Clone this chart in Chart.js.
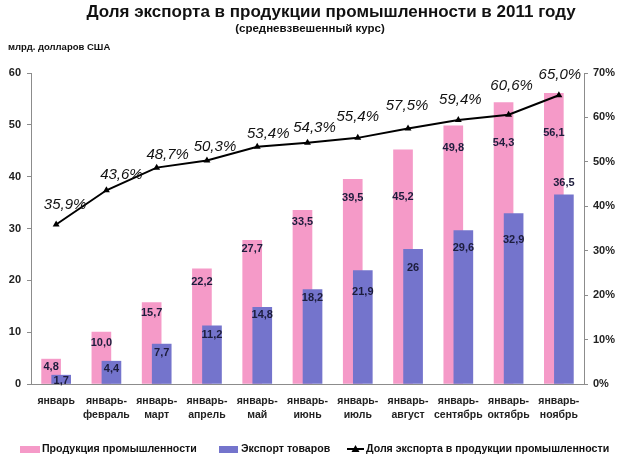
<!DOCTYPE html>
<html>
<head>
<meta charset="utf-8">
<script src="https://cdn.jsdelivr.net/npm/chart.js@4/dist/chart.umd.min.js"></script>
<style>
  html, body { margin: 0; padding: 0; background: #fff; }
  #box { width: 624px; height: 458px; }
</style>
</head>
<body>
<div id="box"><canvas id="exportChart" width="624" height="458"></canvas></div>
<script>
// периоды (нарастающим итогом)
const periods = [
  ['январь'],
  ['январь-', 'февраль'],
  ['январь-', 'март'],
  ['январь-', 'апрель'],
  ['январь-', 'май'],
  ['январь-', 'июнь'],
  ['январь-', 'июль'],
  ['январь-', 'август'],
  ['январь-', 'сентябрь'],
  ['январь-', 'октябрь'],
  ['январь-', 'ноябрь']
];
// млрд. долларов США
const industryOutput = [4.8, 10.0, 15.7, 22.2, 27.7, 33.5, 39.5, 45.2, 49.8, 54.3, 56.1];
const goodsExport = [1.7, 4.4, 7.7, 11.2, 14.8, 18.2, 21.9, 26, 29.6, 32.9, 36.5];
// доля экспорта, %
const exportShare = [35.9, 43.6, 48.7, 50.3, 53.4, 54.3, 55.4, 57.5, 59.4, 60.6, 65.0];
const leftTicks = [0, 10, 20, 30, 40, 50, 60];
const rightTicks = [0, 10, 20, 30, 40, 50, 60, 70];

const FONT = '"Liberation Sans", Arial, sans-serif';
const PINK = '#f59ac8';
const BLUE = '#7474cc';
const SHIFT = 0.1; // pink left, blue right of the period

// сдвиг подписей как на исходной диаграмме
const pinkLabelDy = [8, 11, 10, 13, 9, 12, 19, 47, 22, 40, 40];
const blueLabelDy = [6, 8, 9, 9, 8, 8, 21, 19, 17, 27, -12];
const shareLabelDx = [9, 15, 11, 8, 11, 7, 0, -1, 2, 3, 1];
const shareLabelDy = [-20, -15, -13, -14, -13, -15, -21, -23, -20, -29, -20];

const comma = v => String(v).replace('.', ',');

const valueLabels = {
  id: 'valueLabels',
  afterDatasetsDraw(chart) {
    const ctx = chart.ctx;
    ctx.save();
    ctx.textAlign = 'center';
    ctx.textBaseline = 'middle';
    ctx.font = 'bold 11px ' + FONT;
    ctx.fillStyle = '#1c1c3c';
    chart.getDatasetMeta(1).data.forEach((el, i) => {
      ctx.fillText(industryOutput[i].toFixed(1).replace('.', ','), el.x, el.y + pinkLabelDy[i]);
    });
    chart.getDatasetMeta(2).data.forEach((el, i) => {
      ctx.fillText(comma(goodsExport[i]), el.x, el.y + blueLabelDy[i]);
    });
    ctx.font = 'italic 15px ' + FONT;
    ctx.fillStyle = '#111';
    chart.getDatasetMeta(0).data.forEach((el, i) => {
      ctx.fillText(exportShare[i].toFixed(1).replace('.', ',') + '%', el.x + shareLabelDx[i], el.y + shareLabelDy[i]);
    });
    ctx.restore();
  }
};

const headerAndLegend = {
  id: 'headerAndLegend',
  beforeDraw(chart) {
    const ctx = chart.ctx;
    ctx.save();
    ctx.fillStyle = '#fff';
    ctx.fillRect(0, 0, chart.width, chart.height);
    ctx.restore();
  },
  afterDraw(chart) {
    const ctx = chart.ctx;
    ctx.save();
    ctx.fillStyle = '#111';
    ctx.textBaseline = 'middle';
    ctx.textAlign = 'center';
    ctx.font = 'bold 17px ' + FONT;
    ctx.fillText('Доля экспорта в продукции промышленности в 2011 году', 331, 12);
    ctx.font = 'bold 11.5px ' + FONT;
    ctx.fillText('(средневзвешенный курс)', 310, 29);
    ctx.textAlign = 'left';
    ctx.font = 'bold 9.5px ' + FONT;
    ctx.fillText('млрд. долларов США', 8, 47);

    // легенда
    const y = 449;
    ctx.font = 'bold 10.6px ' + FONT;
    ctx.fillStyle = PINK;
    ctx.fillRect(20, y - 3, 20, 7);
    ctx.fillStyle = '#111';
    ctx.fillText('Продукция промышленности', 42, y);
    ctx.fillStyle = BLUE;
    ctx.fillRect(219, y - 3, 19, 7);
    ctx.fillStyle = '#111';
    ctx.fillText('Экспорт товаров', 241, y);
    ctx.strokeStyle = '#000';
    ctx.lineWidth = 2;
    ctx.beginPath();
    ctx.moveTo(347, y);
    ctx.lineTo(364, y);
    ctx.stroke();
    ctx.beginPath();
    ctx.moveTo(355.5, y - 4);
    ctx.lineTo(359.5, y + 3);
    ctx.lineTo(351.5, y + 3);
    ctx.closePath();
    ctx.fillStyle = '#000';
    ctx.fill();
    ctx.fillStyle = '#111';
    ctx.fillText('Доля экспорта в продукции промышленности', 366, y);
    ctx.restore();
  }
};

const tickFont = { family: FONT, size: 11, weight: 'bold' };

new Chart(document.getElementById('exportChart'), {
  type: 'bar',
  data: {
    datasets: [
      {
        type: 'line',
        label: 'Доля экспорта в продукции промышленности',
        data: exportShare.map((v, i) => ({ x: i, y: v })),
        yAxisID: 'yShare',
        borderColor: '#000',
        backgroundColor: '#000',
        borderWidth: 2,
        pointStyle: 'triangle',
        pointRadius: 4,
        pointBackgroundColor: '#000',
        pointBorderWidth: 0,
        tension: 0,
        order: 0
      },
      {
        label: 'Продукция промышленности',
        data: industryOutput.map((v, i) => ({ x: i - SHIFT, y: v })),
        yAxisID: 'y',
        backgroundColor: PINK,
        barThickness: 19,
        grouped: false,
        order: 2
      },
      {
        label: 'Экспорт товаров',
        data: goodsExport.map((v, i) => ({ x: i + SHIFT, y: v })),
        yAxisID: 'y',
        backgroundColor: BLUE,
        barThickness: 19,
        grouped: false,
        order: 1
      }
    ]
  },
  options: {
    responsive: false,
    animation: false,
    layout: { padding: { top: 73, bottom: 32, left: 0, right: 0 } },
    plugins: { legend: { display: false }, tooltip: { enabled: false } },
    scales: {
      x: {
        type: 'linear',
        min: -0.5,
        max: periods.length - 0.5,
        offset: false,
        grid: { display: false, drawTicks: false, offset: false },
        border: { display: true, color: '#8c8c8c' },
        afterBuildTicks: s => { s.ticks = periods.map((_, i) => ({ value: i })); },
        afterFit: s => { s.height = 42; },
        ticks: {
          autoSkip: false,
          maxRotation: 0,
          padding: 10,
          color: '#222',
          font: { family: FONT, size: 10.5, weight: 'bold', lineHeight: 1.35 },
          callback: v => periods[v]
        }
      },
      y: {
        position: 'left',
        min: 0,
        max: 60,
        afterBuildTicks: s => { s.ticks = leftTicks.map(v => ({ value: v })); },
        afterFit: s => { s.width = 31; },
        grid: { drawOnChartArea: false, drawTicks: true, tickLength: 4, color: '#8c8c8c' },
        border: { display: true, color: '#8c8c8c' },
        ticks: { padding: 6, color: '#222', font: tickFont }
      },
      yShare: {
        position: 'right',
        min: 0,
        max: 70,
        afterBuildTicks: s => { s.ticks = rightTicks.map(v => ({ value: v })); },
        afterFit: s => { s.width = 40; },
        grid: { drawOnChartArea: false, drawTicks: true, tickLength: 4, color: '#8c8c8c' },
        border: { display: true, color: '#8c8c8c' },
        ticks: { padding: 5, color: '#222', font: tickFont, callback: v => v + '%' }
      }
    }
  },
  plugins: [headerAndLegend, valueLabels]
});
</script>
</body>
</html>
